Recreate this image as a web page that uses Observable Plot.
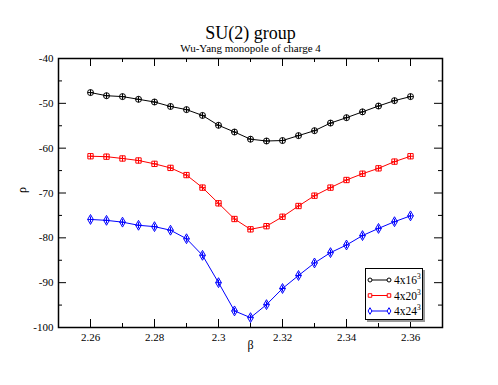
<!DOCTYPE html>
<html><head><meta charset="utf-8">
<script src="https://cdn.jsdelivr.net/npm/d3@7"></script>
<script src="https://cdn.jsdelivr.net/npm/@observablehq/plot@0.6"></script>
<style>
body{margin:0;background:#fff;}
#wrap{position:relative;width:498px;height:385px;font-family:"Liberation Serif",serif;}
#legend{position:absolute;left:365px;top:268px;width:56px;height:50px;border:1px solid #000;background:#fff;box-shadow:2px 2px 0 #999;}
#legend svg{display:block;}
</style></head><body><div id="wrap"></div>
<script>
const beta = [2.26,2.265,2.27,2.275,2.28,2.285,2.29,2.295,2.3,2.305,2.31,2.315,2.32,2.325,2.33,2.335,2.34,2.345,2.35,2.355,2.36];
const rho16 = [-47.6,-48.3,-48.5,-49.1,-49.7,-50.7,-51.4,-52.7,-54.9,-56.4,-58.0,-58.4,-58.3,-57.2,-56.1,-54.4,-53.2,-51.9,-50.6,-49.4,-48.5];
const rho20 = [-61.8,-61.9,-62.3,-62.75,-63.5,-64.4,-66.0,-68.8,-72.3,-75.8,-78.1,-77.4,-75.3,-72.9,-70.6,-68.8,-67.1,-65.7,-64.5,-63.0,-61.8];
const rho24 = [-75.9,-76.1,-76.5,-77.2,-77.5,-78.3,-80.2,-83.9,-90.0,-96.3,-97.8,-94.9,-91.3,-88.4,-85.6,-83.3,-81.6,-79.5,-77.9,-76.4,-75.1];
const seriesNames = ["4x16","4x20","4x24"];
const seriesColors = ["#000000","#ff0000","#0000ff"];
const seriesSymbols = ["circle","square","diamond"];
const xDomain = [2.25, 2.37];
const yDomain = [-100, -40];
const xMajor = [2.26,2.28,2.3,2.32,2.34,2.36];
const xMinor = [2.27,2.29,2.31,2.33,2.35];
const yMajor = [-100,-90,-80,-70,-60,-50,-40];
const yMinor = [-95,-85,-75,-65,-55,-45];
const titleText = "SU(2) group";
const subtitleText = "Wu-Yang monopole of charge 4";

const FONT = "Liberation Serif";
const W = 498, H = 385, MT = 58, MB = 58, ML = 58, MR = 56;
const FW = W - ML - MR, FH = H - MT - MB;
const MAJ = 8, MIN = 4;
// tick lengths converted from pixels to data units
const yPer = (yDomain[1] - yDomain[0]) / FH;
const xPer = (xDomain[1] - xDomain[0]) / FW;

const allRho = [rho16, rho20, rho24];
const rows = [];
allRho.forEach((arr, i) => arr.forEach((v, j) => rows.push({beta: beta[j], rho: v, series: seriesNames[i]})));

const crossSymbol = {draw(ctx, size){ const r = Math.sqrt(size/Math.PI); ctx.moveTo(-r,0); ctx.lineTo(r,0); ctx.moveTo(0,-r); ctx.lineTo(0,r);} };

const tickMarks = [];
[[xMajor, MAJ], [xMinor, MIN]].forEach(([vals, len]) => {
  tickMarks.push(Plot.ruleX(vals, {x: d => d, y1: () => yDomain[0], y2: () => yDomain[0] + len * yPer, stroke: "black", strokeWidth: 1}));
  tickMarks.push(Plot.ruleX(vals, {x: d => d, y1: () => yDomain[1], y2: () => yDomain[1] - len * yPer, stroke: "black", strokeWidth: 1}));
});
[[yMajor, MAJ], [yMinor, MIN]].forEach(([vals, len]) => {
  tickMarks.push(Plot.ruleY(vals, {y: d => d, x1: () => xDomain[0], x2: () => xDomain[0] + len * xPer, stroke: "black", strokeWidth: 1}));
  tickMarks.push(Plot.ruleY(vals, {y: d => d, x1: () => xDomain[1], x2: () => xDomain[1] - len * xPer, stroke: "black", strokeWidth: 1}));
});

const seriesMarks = [];
seriesNames.forEach((name, i) => {
  const d = rows.filter(r => r.series === name);
  seriesMarks.push(Plot.line(d, {x:"beta", y:"rho", stroke: seriesColors[i], strokeWidth: 1}));
  seriesMarks.push(Plot.dot(d, {x:"beta", y:"rho", symbol: seriesSymbols[i], r: 3, stroke: seriesColors[i], fill: "none", strokeWidth: 1}));
  seriesMarks.push(Plot.dot(d, {x:"beta", y:"rho", symbol: crossSymbol, r: 3, stroke: seriesColors[i], fill: "none", strokeWidth: 1}));
});

const id = d => d;
const fmt = d => String(+d.toFixed(2));
const plot = Plot.plot({
  width: W, height: H,
  marginTop: MT, marginBottom: MB, marginLeft: ML, marginRight: MR,
  style: {fontFamily: FONT, fontSize: "11px", background: "white", color: "black"},
  x: {domain: xDomain},
  y: {domain: yDomain},
  marks: [
    Plot.axisX(xMajor, {anchor: "bottom", tickSize: 0, tickPadding: 6, tickFormat: fmt, label: null, fontFamily: FONT, fontSize: 11}),
    Plot.axisY(yMajor, {anchor: "left", tickSize: 0, tickPadding: 5, tickFormat: d => String(d), label: null, fontFamily: FONT, fontSize: 11}),
    ...seriesMarks,
    ...tickMarks,
    Plot.frame({stroke: "black", strokeWidth: 1.5, fill: "none"}),
    Plot.text([titleText], {frameAnchor: "top", dy: -32, fontSize: 18, fontFamily: FONT, text: id}),
    Plot.text([subtitleText], {frameAnchor: "top", dy: -14, fontSize: 11, fontFamily: FONT, text: id}),
    Plot.text(["β"], {frameAnchor: "bottom", dy: 21, fontSize: 12, fontFamily: FONT, text: id}),
    Plot.text(["ρ"], {frameAnchor: "left", dx: -36, rotate: -90, fontSize: 12, fontFamily: FONT, text: id})
  ]
});
const wrap = document.getElementById("wrap");
wrap.appendChild(plot);

const leg = document.createElement("div");
leg.id = "legend";
wrap.appendChild(leg);
const lsvg = d3.select(leg).append("svg").attr("width", 56).attr("height", 50);
const symGen = {circle: d3.symbolCircle, square: d3.symbolSquare, diamond: d3.symbolDiamond};
seriesNames.forEach((name, i) => {
  const y = 11 + i * 15.5;
  const g = lsvg.append("g").attr("transform", `translate(0,${y})`);
  g.append("line").attr("x1", 4).attr("x2", 23).attr("stroke", seriesColors[i]).attr("stroke-width", 1);
  [4, 23].forEach(x => {
    g.append("path").attr("d", d3.symbol(symGen[seriesSymbols[i]], Math.PI * 2 * 2)()).attr("transform", `translate(${x},0)`).attr("fill", "white").attr("stroke", seriesColors[i]);
  });
  const t = g.append("text").attr("x", 28).attr("y", 4).attr("font-family", FONT).attr("font-size", 11.5).attr("fill", "black");
  t.append("tspan").text(name);
  t.append("tspan").attr("dy", -5).attr("font-size", 7.5).text("3");
});
</script>
</body></html>
